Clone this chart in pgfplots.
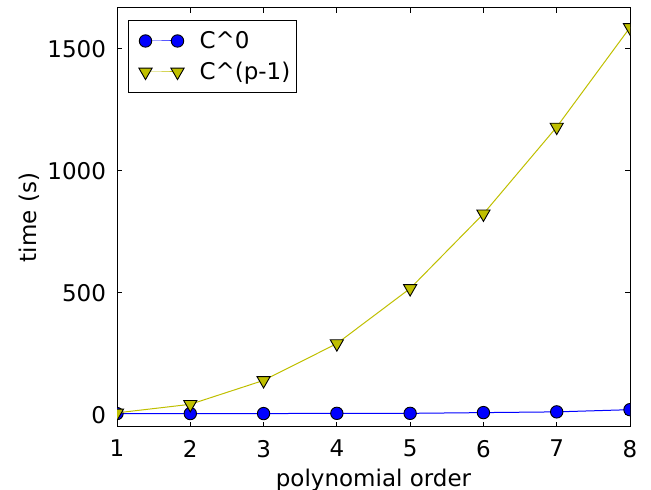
\documentclass[border=0pt]{standalone}
\usepackage{pgfplots}
\pgfplotsset{compat=1.18}
\usepackage{fontspec}
\setmainfont{DejaVu Sans}

\definecolor{mplblue}{rgb}{0,0,1}
\definecolor{mplyellow}{rgb}{0.75,0.75,0}

\newcommand{\lblfont}{\fontsize{11.5}{13.5}\selectfont}

\begin{document}
\begin{tikzpicture}
\begin{axis}[
  name=ax,
  scale only axis,
  width=256.5pt, height=209.5pt,
  xmin=1, xmax=8, ymin=-50, ymax=1668,
  xtick={1,...,8},
  ytick={0,500,1000,1500},
  minor tick num=0,
  tick align=inside,
  major tick length=2.5pt,
  every tick/.style={black, line width=0.5pt},
  axis line style={black, line width=0.5pt},
  /pgf/number format/assume math mode=true,
  /pgf/number format/1000 sep={},
  tick label style={font=\lblfont},
  xticklabel style={yshift=-3pt},
  yticklabel style={xshift=-2pt},
  label style={font=\lblfont},
  xlabel={polynomial order},
  ylabel={time (s)},
  xlabel style={yshift=1pt},
  ylabel style={yshift=-3pt},
  clip marker paths=true,
  legend cell align=left,
  legend style={
    at={(0,1)}, anchor=north west, xshift=5.5pt, yshift=-6pt,
    draw=black, line width=0.5pt, font=\lblfont,
    inner xsep=3pt, inner ysep=2.5pt, row sep=0pt, column sep=0pt,
    nodes={inner sep=0pt},
  },
  legend image code/.code={
    \path[draw=none, fill=none] (-5.5pt,-7.75pt) rectangle (27pt,7.75pt);
    \draw[mark repeat=2, mark phase=1] plot coordinates {(0pt,0pt) (8pt,0pt) (16pt,0pt)};
  },
]
\addplot[mplblue, line width=0.5pt, mark=*, mark size=3.1pt,
  mark options={fill=mplblue, draw=black, line width=0.45pt}]
  coordinates {(1,5) (2,5) (3,5) (4,6) (5,6) (6,9) (7,12) (8,21)};
\addlegendentry{C\textasciicircum 0}
\addplot[mplyellow, line width=0.5pt, mark=triangle*, mark size=3.8pt,
  mark options={rotate=180, fill=mplyellow, draw=black, line width=0.45pt}]
  coordinates {(1,8) (2,43) (3,141) (4,292) (5,518) (6,824) (7,1180) (8,1588)};
\addlegendentry{C\textasciicircum (p-1)}
\end{axis}
\pgfresetboundingbox
\path ([shift={(-58.5pt,-31.5pt)}]ax.south west) rectangle ([shift={(10.5pt,4pt)}]ax.north east);
\end{tikzpicture}
\end{document}
